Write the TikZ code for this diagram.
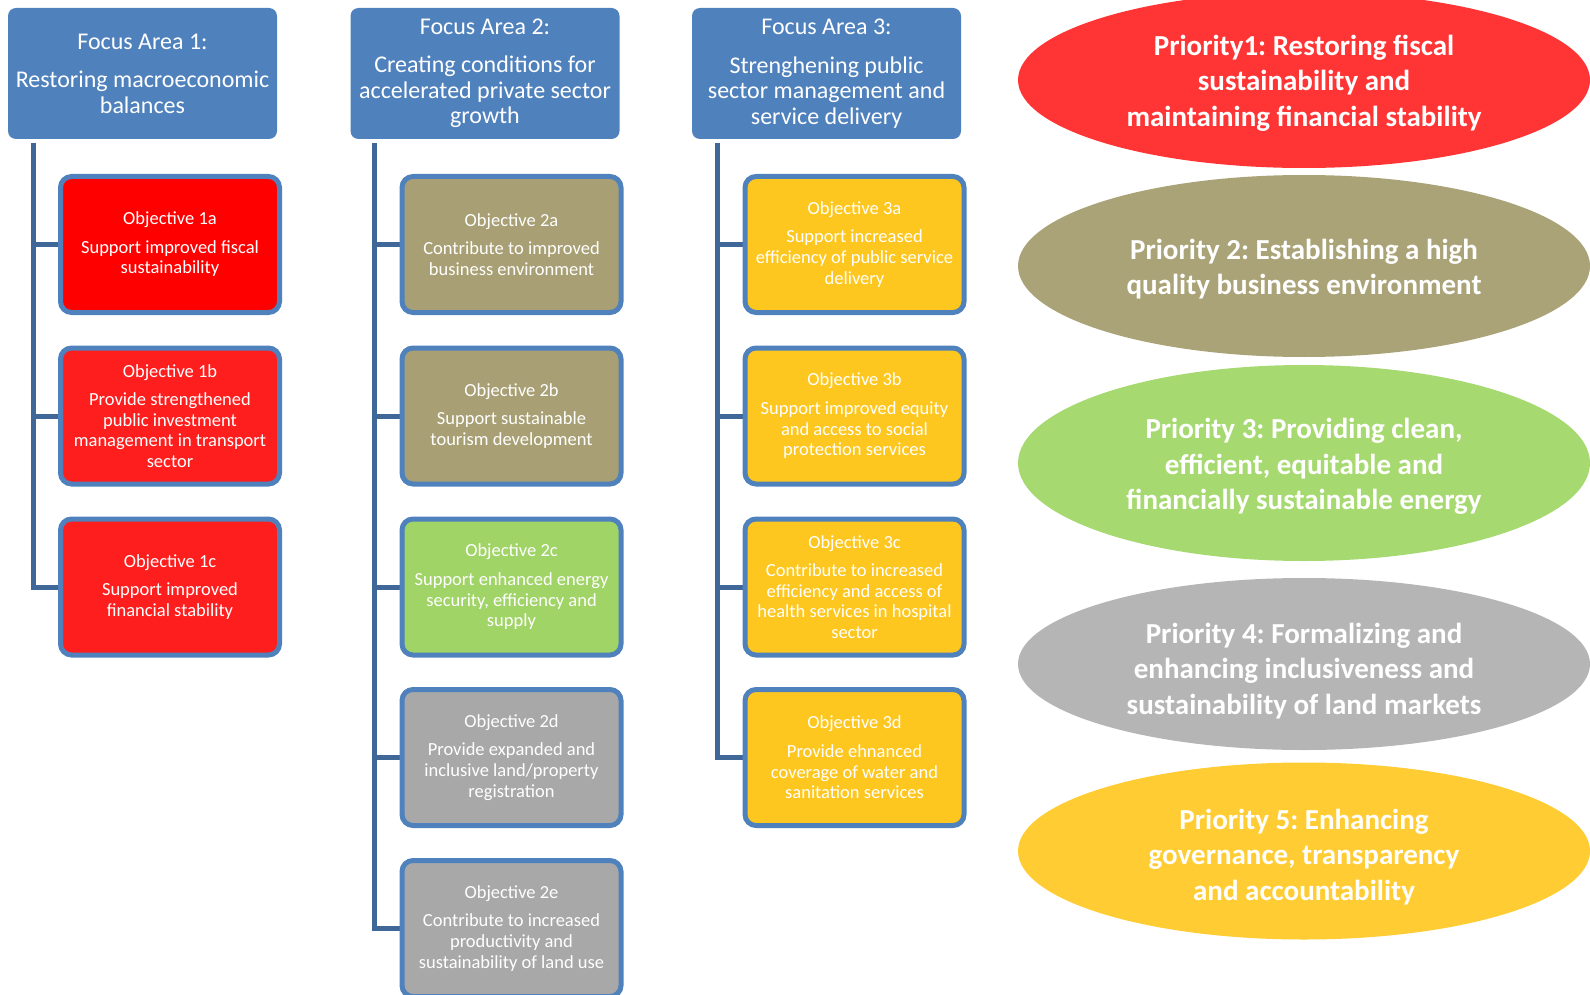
\documentclass[tikz,border=0pt]{standalone}
\usepackage{fontspec}
\setmainfont{Carlito}
\usetikzlibrary{shapes.geometric, backgrounds}

\definecolor{areablue}{HTML}{4F81BD}
\definecolor{spineblue}{HTML}{3F6797}
\definecolor{objred}{HTML}{FF0000}
\definecolor{objredlight}{HTML}{FF1E1E}
\definecolor{objkhaki}{HTML}{A8A074}
\definecolor{objgreen}{HTML}{A0D466}
\definecolor{objgrey}{HTML}{A8A8A8}
\definecolor{objamber}{HTML}{FEC71F}
\definecolor{prired}{HTML}{FF3535}
\definecolor{prikhaki}{HTML}{AAA378}
\definecolor{prigreen}{HTML}{A7D971}
\definecolor{prigrey}{HTML}{B5B5B5}
\definecolor{priamber}{HTML}{FFCD33}

\frenchspacing
\begin{document}
\begin{tikzpicture}[x=1pt, y=-1pt,
  area/.style={fill=areablue, rounded corners=8pt, minimum width=269pt, minimum height=131pt,
    inner sep=0pt, outer sep=0pt, text=white, align=center, font=\fontsize{24}{25.5}\selectfont},
  objective/.style={draw=areablue, line width=5pt, rounded corners=11pt, minimum width=219pt,
    minimum height=136pt, inner sep=0pt, text=white, align=center, font=\fontsize{18.5}{20.8}\selectfont},
  priority/.style={ellipse, minimum width=572pt, inner sep=0pt},
  priotext/.style={inner sep=0pt, text=white, align=center, font=\bfseries\fontsize{29}{35.5}\selectfont},
  spine/.style={draw=spineblue, line width=5pt}]

% Page size
\useasboundingbox (0,0) rectangle (1590,995);
\clip (0,0) rectangle (1590,995);

% Focus areas
\node[area] (fa1) at (142.5,73.5) {Focus Area 1:\\[13pt]Restoring macroeconomic\\balances};
\node[area] (fa2) at (485,73.5) {Focus Area 2:\\[13pt]Creating conditions for\\accelerated private sector\\growth};
\node[area] (fa3) at (826.5,73.5) {Focus Area 3:\\[13pt]Strenghening public\\sector management and\\service delivery};

% Objectives under focus area 1
\node[objective, fill=objred] (o1a) at (170,244.5) {Objective 1a\\[7.5pt]Support improved fiscal\\sustainability};
\node[objective, fill=objredlight] (o1b) at (170,416) {Objective 1b\\[7.5pt]Provide strengthened\\public investment\\management in transport\\sector};
\node[objective, fill=objredlight] (o1c) at (170,587) {Objective 1c\\[7.5pt]Support improved\\financial stability};

% Objectives under focus area 2
\node[objective, fill=objkhaki] (o2a) at (511.5,244.5) {Objective 2a\\[7.5pt]Contribute to improved\\business environment};
\node[objective, fill=objkhaki] (o2b) at (511.5,416) {Objective 2b\\[7.5pt]Support sustainable\\tourism development};
\node[objective, fill=objgreen] (o2c) at (511.5,587) {Objective 2c\\[7.5pt]Support enhanced energy\\security, efficiency and\\supply};
\node[objective, fill=objgrey] (o2d) at (511.5,757.5) {Objective 2d\\[7.5pt]Provide expanded and\\inclusive land/property\\registration};
\node[objective, fill=objgrey] (o2e) at (511.5,928.5) {Objective 2e\\[7.5pt]Contribute to increased\\productivity and\\sustainability of land use};

% Objectives under focus area 3
\node[objective, fill=objamber] (o3a) at (854.5,244.5) {Objective 3a\\[7.5pt]Support increased\\efficiency of public service\\delivery};
\node[objective, fill=objamber] (o3b) at (854.5,416) {Objective 3b\\[7.5pt]Support improved equity\\and access to social\\protection services};
\node[objective, fill=objamber] (o3c) at (854.5,587) {Objective 3c\\[7.5pt]Contribute to increased\\efficiency and access of\\health services in hospital\\sector};
\node[objective, fill=objamber] (o3d) at (854.5,757.5) {Objective 3d\\[7.5pt]Provide ehnanced\\coverage of water and\\sanitation services};

% Tree lines behind the boxes
\begin{scope}[on background layer]
\coordinate (s1) at ([xshift=25pt,yshift=-4pt]fa1.south west);
\coordinate (s2) at ([xshift=24pt,yshift=-4pt]fa2.south west);
\coordinate (s3) at ([xshift=25pt,yshift=-4pt]fa3.south west);
\draw[spine] (s1) |- (o1c.west);
\draw[spine] (o1a.west) -- (o1a.west -| s1);
\draw[spine] (o1b.west) -- (o1b.west -| s1);
\draw[spine] (s2) |- (o2e.west);
\draw[spine] (o2a.west) -- (o2a.west -| s2);
\draw[spine] (o2b.west) -- (o2b.west -| s2);
\draw[spine] (o2c.west) -- (o2c.west -| s2);
\draw[spine] (o2d.west) -- (o2d.west -| s2);
\draw[spine] (s3) |- (o3d.west);
\draw[spine] (o3a.west) -- (o3a.west -| s3);
\draw[spine] (o3b.west) -- (o3b.west -| s3);
\draw[spine] (o3c.west) -- (o3c.west -| s3);
\end{scope}

% Priorities
\node[priority, fill=prired, minimum height=176pt] (p1) at (1304,80) {};
\node[priotext] (p1text) at ([yshift=-3pt]p1.center) {Priority1: Restoring fiscal\\sustainability and\\maintaining financial stability};
\node[priority, fill=prikhaki, minimum height=182pt] (p2) at (1304,266) {};
\node[priotext] (p2text) at ([yshift=-3pt]p2.center) {Priority 2: Establishing a high\\quality business environment};
\node[priority, fill=prigreen, minimum height=196pt] (p3) at (1304,463) {};
\node[priotext] (p3text) at ([yshift=-3.5pt]p3.center) {Priority 3: Providing clean,\\efficient, equitable and\\financially sustainable energy};
\node[priority, fill=prigrey, minimum height=172pt] (p4) at (1304,664) {};
\node[priotext] (p4text) at ([yshift=-7pt]p4.center) {Priority 4: Formalizing and\\enhancing inclusiveness and\\sustainability of land markets};
\node[priority, fill=priamber, minimum height=177pt] (p5) at (1304,851) {};
\node[priotext] (p5text) at ([yshift=-6pt]p5.center) {Priority 5: Enhancing\\governance, transparency\\and accountability};
\end{tikzpicture}
\end{document}
